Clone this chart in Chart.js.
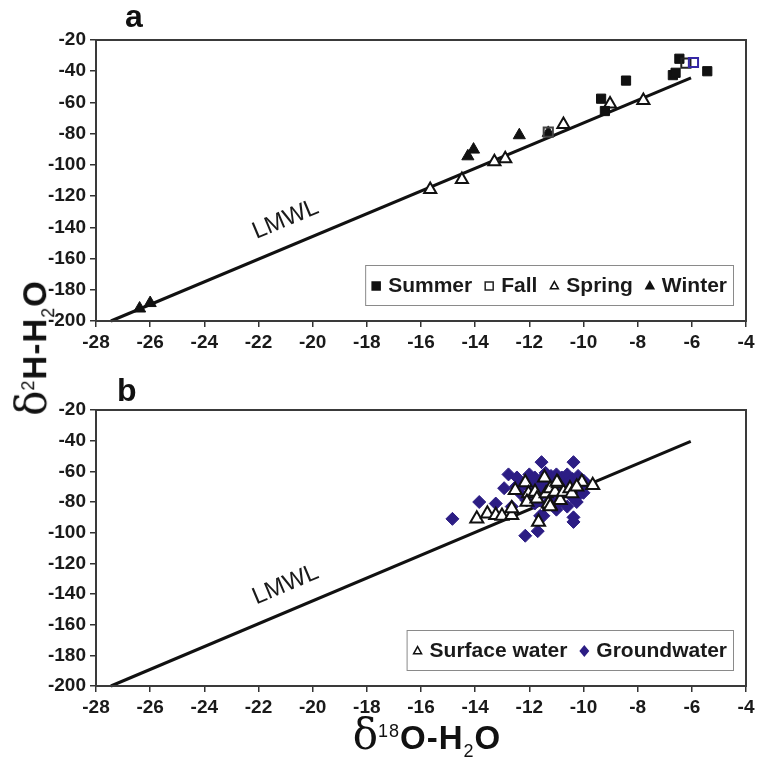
<!DOCTYPE html>
<html>
<head>
<meta charset="utf-8">
<script src="https://cdn.jsdelivr.net/npm/chart.js@4.4.1/dist/chart.umd.min.js"></script>
<style>
  body { margin: 0; background: #fff; width: 760px; height: 760px; overflow: hidden; position: relative; font-family: "Liberation Sans", Arial, sans-serif; }
  .panel { position: absolute; left: 0; }
  .tag { position: absolute; font: bold 32px "Liberation Sans", Arial, sans-serif; color: #111; }
  .axlab { position: absolute; white-space: nowrap; font: bold 33px "Liberation Sans", Arial, sans-serif; color: #111; line-height: 1; letter-spacing: 1px; }
  #ylab { left: 32px; top: 348px; transform: translate(-50%, -50%) rotate(-90deg); }
  #xlab { left: 427px; top: 735px; transform: translate(-50%, -50%); }
  .dl { font: 400 42px "DejaVu Serif", serif; letter-spacing: 0; }
  sup, sub { font-size: 18px; font-weight: 400; }
</style>
</head>
<body>
<div class="panel" style="top:0"><canvas id="chartA" width="760" height="360"></canvas></div>
<div class="panel" style="top:370px"><canvas id="chartB" width="760" height="390"></canvas></div>
<div class="tag" style="left:125px; top:-2px">a</div>
<div class="tag" style="left:117px; top:372px">b</div>
<div id="ylab" class="axlab"><span class="dl">δ</span><sup>2</sup>H-H<sub>2</sub>O</div>
<div id="xlab" class="axlab"><span class="dl">δ</span><sup>18</sup>O-H<sub>2</sub>O</div>
<script>
// Panneau a : échantillons par saison (δ18O, δ2H)
const summer = [[-6.46, -32], [-5.43, -40], [-6.7, -42.5], [-6.6, -41], [-8.43, -46], [-9.35, -57.6], [-9.21, -65.5]];
const fall = [[-6.22, -34.8], [-5.94, -34.4], [-11.3, -79]];
const spring = [[-9.02, -61], [-7.79, -58.7], [-10.74, -74.2], [-13.29, -98], [-12.89, -96], [-14.49, -109.4], [-15.66, -115.8]];
const winter = [[-12.37, -81], [-14.06, -90.2], [-14.27, -94.5], [-26.39, -192], [-26.0, -188.5], [-11.3, -79.5]];
const lmwlA = [[-27.45, -200], [-6.03, -44.2]];

// Panneau b : eaux de surface et souterraines
const surfaceWater = [[-13.94, -91], [-13.55, -87.6], [-13.24, -88.7], [-13.01, -89.1], [-12.65, -88.7], [-12.65, -84.3],
  [-12.52, -72.4], [-12.15, -67.3], [-12.03, -74.5], [-12.09, -80], [-11.79, -73.4], [-11.72, -77.8], [-11.44, -64.2],
  [-11.38, -74.5], [-11.23, -71.2], [-11.23, -82.2], [-11.05, -73.4], [-10.93, -68], [-10.86, -78.9], [-10.74, -73.4],
  [-10.5, -71.2], [-10.43, -74.5], [-10.06, -66.9], [-9.66, -69.1], [-11.66, -93], [-11.3, -81.1], [-10.25, -70.1],
  [-10.98, -67], [-11.23, -83]];
const groundwater = [[-14.84, -91], [-13.85, -80], [-13.24, -81], [-12.77, -62], [-12.46, -64], [-12.93, -71], [-11.55, -54],
  [-10.37, -54], [-12.15, -102], [-11.69, -99], [-10.37, -93], [-11.48, -89], [-12.65, -83], [-10.25, -80], [-11.97, -67],
  [-11.72, -69], [-11.6, -89], [-10.37, -90], [-12.2, -68], [-12.0, -62], [-11.8, -64], [-11.6, -66], [-11.4, -61],
  [-11.2, -63], [-11.0, -62], [-10.8, -64], [-10.6, -62], [-10.4, -65], [-10.2, -63], [-10.0, -66], [-11.9, -72],
  [-11.5, -71], [-11.3, -68], [-11.1, -70], [-10.9, -67], [-10.7, -69], [-10.5, -67], [-10.3, -70], [-10.1, -72],
  [-9.9, -68], [-11.6, -76], [-11.2, -78], [-10.8, -75], [-10.4, -77], [-10.0, -74], [-11.4, -82], [-10.9, -80],
  [-10.6, -83], [-12.3, -75], [-12.5, -70], [-11.0, -85], [-10.7, -72], [-11.3, -74], [-10.2, -76], [-12.1, -79], [-11.8, -81]];
const lmwlB = [[-27.45, -200], [-6.04, -40.5]];

const xTicks = { min: -28, max: -4, step: 2 };
const yTicks = { min: -200, max: -20, step: 20 };

const pts = arr => arr.map(p => ({ x: p[0], y: p[1] }));
const FONT = '"Liberation Sans", Arial, sans-serif';
const INK = '#1a1a1a';

// Dessine un marqueur simple pour la légende
function drawMarker(ctx, ds, x, y, r) {
  ctx.save();
  ctx.fillStyle = ds.pointBackgroundColor;
  ctx.strokeStyle = Array.isArray(ds.pointBorderColor) ? ds.pointBorderColor[0] : ds.pointBorderColor;
  ctx.lineWidth = 1.5;
  ctx.beginPath();
  if (ds.pointStyle === 'rect') {
    ctx.rect(x - r, y - r, 2 * r, 2 * r);
  } else if (ds.pointStyle === 'triangle') {
    ctx.moveTo(x, y - r * 1.1);
    ctx.lineTo(x + r, y + r * 0.7);
    ctx.lineTo(x - r, y + r * 0.7);
    ctx.closePath();
  } else {
    ctx.moveTo(x, y - r * 1.2);
    ctx.lineTo(x + r, y);
    ctx.lineTo(x, y + r * 1.2);
    ctx.lineTo(x - r, y);
    ctx.closePath();
  }
  if (ds.pointBackgroundColor !== 'rgba(0,0,0,0)') ctx.fill();
  ctx.stroke();
  ctx.restore();
}

// Légende encadrée dans le coin bas-droit de la zone de tracé
const boxLegend = {
  id: 'boxLegend',
  afterDatasetsDraw(chart, args, opts) {
    const ctx = chart.ctx, a = chart.chartArea;
    const items = chart.data.datasets.filter(d => d.label);
    ctx.save();
    ctx.font = 'bold 21px ' + FONT;
    const mW = 10, gap = 7, itemGap = 12, padX = 6;
    const widths = items.map(d => ctx.measureText(d.label).width);
    const total = widths.reduce((s, w) => s + w + mW + gap, 0) + itemGap * (items.length - 1) + 2 * padX;
    const right = a.right - opts.right, bottom = a.bottom - opts.bottom;
    const left = right - total, top = bottom - opts.height;
    ctx.fillStyle = '#fff';
    ctx.fillRect(left, top, total, opts.height);
    ctx.strokeStyle = '#8a8a8a';
    ctx.lineWidth = 1;
    ctx.strokeRect(left + 0.5, top + 0.5, total, opts.height);
    let x = left + padX;
    const cy = top + opts.height / 2;
    items.forEach((d, i) => {
      drawMarker(ctx, d, x + mW / 2, cy + 1, 4);
      x += mW + gap;
      ctx.fillStyle = INK;
      ctx.textBaseline = 'middle';
      ctx.fillText(d.label, x, cy + 1);
      x += widths[i] + itemGap;
    });
    ctx.restore();
  }
};

// Cadre autour de la zone de tracé + étiquette LMWL le long de la droite
const frameAndLabel = {
  id: 'frameAndLabel',
  afterDraw(chart, args, opts) {
    const ctx = chart.ctx, a = chart.chartArea;
    ctx.save();
    ctx.strokeStyle = '#3a3a3a';
    ctx.lineWidth = 2;
    ctx.strokeRect(a.left, a.top, a.right - a.left, a.bottom - a.top);
    const xs = chart.scales.x, ys = chart.scales.y;
    const line = opts.line;
    const ang = Math.atan2(ys.getPixelForValue(line[1][1]) - ys.getPixelForValue(line[0][1]),
      xs.getPixelForValue(line[1][0]) - xs.getPixelForValue(line[0][0]));
    ctx.translate(xs.getPixelForValue(opts.at[0]), ys.getPixelForValue(opts.at[1]));
    ctx.rotate(ang);
    ctx.font = '24px ' + FONT;
    ctx.fillStyle = INK;
    ctx.textAlign = 'center';
    ctx.textBaseline = 'middle';
    ctx.fillText('LMWL', 0, 0);
    ctx.restore();
  }
};

function makeChart(id, datasets, lineData, labelAt, plotBottom, canvasH, legendH) {
  return new Chart(document.getElementById(id), {
    type: 'scatter',
    data: {
      datasets: datasets.concat([{
        type: 'line', data: pts(lineData), borderColor: '#111', borderWidth: 3,
        pointRadius: 0, fill: false, order: 10, clip: false
      }])
    },
    options: {
      responsive: false,
      animation: false,
      layout: { padding: { top: 40, right: 14, left: 0, bottom: 0 } },
      plugins: {
        legend: { display: false },
        tooltip: { enabled: false },
        boxLegend: { right: 13, bottom: 16, height: legendH },
        frameAndLabel: { line: lineData, at: labelAt }
      },
      scales: {
        x: {
          type: 'linear', min: xTicks.min, max: xTicks.max,
          ticks: { stepSize: xTicks.step, color: INK, font: { family: FONT, size: 19, weight: 'bold' }, padding: 4, maxRotation: 0 },
          grid: { drawOnChartArea: false, drawTicks: true, tickLength: 6, color: '#333', lineWidth: 1.5 },
          border: { color: '#333', width: 2 },
          afterFit: s => { s.height = canvasH - plotBottom; }
        },
        y: {
          type: 'linear', min: yTicks.min, max: yTicks.max,
          ticks: { stepSize: yTicks.step, color: INK, font: { family: FONT, size: 19, weight: 'bold' }, padding: 4 },
          grid: { drawOnChartArea: false, drawTicks: true, tickLength: 6, color: '#333', lineWidth: 1.5 },
          border: { color: '#333', width: 2 },
          afterFit: s => { s.width = 96; }
        }
      }
    },
    plugins: [boxLegend, frameAndLabel]
  });
}

const black = '#111';

makeChart('chartA', [
  { label: 'Summer', data: pts(summer), pointStyle: 'rect', pointRadius: 6.5, pointBackgroundColor: black, pointBorderColor: black, pointBorderWidth: 1, order: 1 },
  { label: 'Fall', data: pts(fall), pointStyle: 'rect', pointRadius: 6.5, pointBackgroundColor: 'rgba(0,0,0,0)', pointBorderColor: ['#222', '#3527a5', '#444'], pointBorderWidth: 2, order: 0 },
  { label: 'Spring', data: pts(spring), pointStyle: 'triangle', pointRadius: 7, pointBackgroundColor: '#fff', pointBorderColor: black, pointBorderWidth: 2, order: 2 },
  { label: 'Winter', data: pts(winter), pointStyle: 'triangle', pointRadius: 7, pointBackgroundColor: black, pointBorderColor: black, pointBorderWidth: 1, order: 3 }
], lmwlA, [-21, -135], 321, 360, 40);

makeChart('chartB', [
  { label: 'Surface water', data: pts(surfaceWater), pointStyle: 'triangle', pointRadius: 7.5, pointBackgroundColor: '#fff', pointBorderColor: black, pointBorderWidth: 2, order: 0 },
  { label: 'Groundwater', data: pts(groundwater), pointStyle: 'rectRot', pointRadius: 6.5, pointBackgroundColor: '#2c1d84', pointBorderColor: '#2c1d84', pointBorderWidth: 1, order: 1 }
], lmwlB, [-21, -134], 316, 390, 40);
</script>
</body>
</html>
